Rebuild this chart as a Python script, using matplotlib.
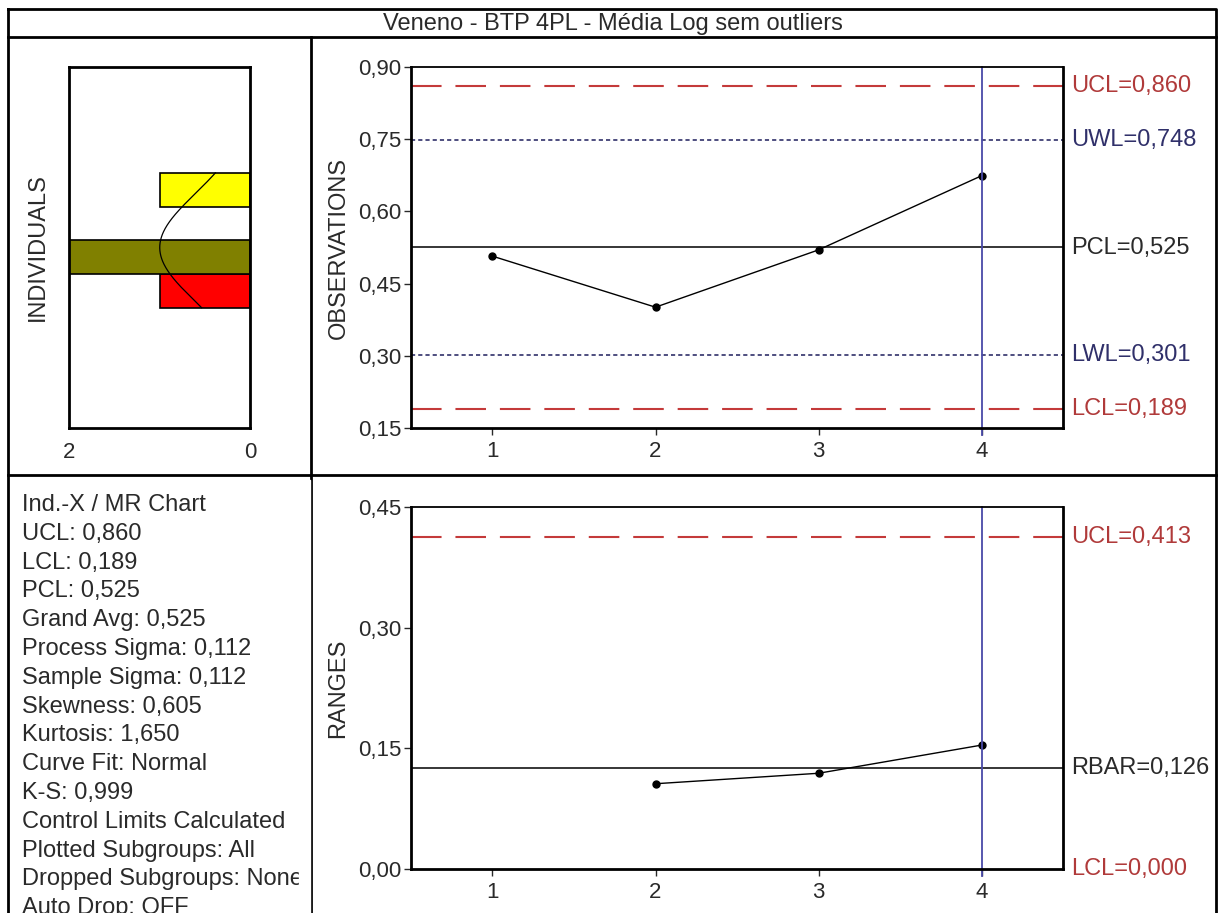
import numpy as np
import matplotlib
matplotlib.use("Agg")
import matplotlib.pyplot as plt
from matplotlib.transforms import blended_transform_factory

plt.rcParams['font.family'] = ['Liberation Sans', 'DejaVu Sans']
plt.rcParams['lines.scale_dashes'] = False

# data
title = "Veneno - BTP 4PL - Média Log sem outliers"
subgroups = [1, 2, 3, 4]
observations = [0.507, 0.401, 0.520, 0.674]
ranges_sg = [2, 3, 4]
ranges = [0.106, 0.119, 0.154]

ucl_x, uwl_x, pcl_x, lwl_x, lcl_x = 0.860, 0.748, 0.525, 0.301, 0.189
ucl_r, rbar, lcl_r = 0.413, 0.126, 0.000
sigma = 0.112

hist_edges = [0.40, 0.47, 0.54, 0.61, 0.68]
hist_counts = [1, 2, 0, 1]
hist_colors = ['#ff0000', '#808000', '#ffffff', '#ffff00']

obs_ticks = [0.15, 0.30, 0.45, 0.60, 0.75, 0.90]
rng_ticks = [0.00, 0.15, 0.30, 0.45]

info_lines = [
    "Ind.-X / MR Chart",
    "UCL: 0,860",
    "LCL: 0,189",
    "PCL: 0,525",
    "Grand Avg: 0,525",
    "Process Sigma: 0,112",
    "Sample Sigma: 0,112",
    "Skewness: 0,605",
    "Kurtosis: 1,650",
    "Curve Fit: Normal",
    "K-S: 0,999",
    "Control Limits Calculated",
    "Plotted Subgroups: All",
    "Dropped Subgroups: None",
    "Auto Drop: OFF",
]

RED = '#c43a3a'
RED_TXT = '#b03a3a'
NAVY = '#30306a'
VBLUE = '#4a4aa8'
TXT = '#2a2a2a'
FS = 17


def comma(v, _=None):
    return ("%.2f" % v).replace('.', ',')


W, H = 1220, 913
fig = plt.figure(figsize=(W / 100, H / 100), dpi=100)

# background frame in pixel coords
bg = fig.add_axes([0, 0, 1, 1])
bg.set_xlim(0, W)
bg.set_ylim(H, 0)
bg.axis('off')
lw_frame = 2.0
bg.plot([8, 1216, 1216, 8, 8], [9, 9, H + 5, H + 5, 9], color='black', lw=lw_frame)
bg.plot([8, 1216], [37, 37], color='black', lw=lw_frame)
bg.plot([311, 311], [37, H + 5], color='black', lw=lw_frame)
bg.plot([8, 1216], [475, 475], color='black', lw=lw_frame)
bg.text(613, 24, title, ha='center', va='center', fontsize=FS, color=TXT)
for i, line in enumerate(info_lines):
    bg.text(22, 505 + i * 28.8, line, ha='left', va='center', fontsize=FS,
            color=TXT, clip_on=True)
# mask text that runs into the divider
bg.fill_between([299, 310], 480, H, color='white', zorder=3)


def px_axes(l, t, r, b):
    return fig.add_axes([l / W, 1 - b / H, (r - l) / W, (b - t) / H])


# histogram
axh = px_axes(69, 67, 250, 428)
centers = [(a + b) / 2 for a, b in zip(hist_edges[:-1], hist_edges[1:])]
bw = hist_edges[1] - hist_edges[0]
for c, n, col in zip(centers, hist_counts, hist_colors):
    if n > 0:
        axh.barh(c, n, height=bw, color=col, edgecolor='black', linewidth=1.2)
yy = np.linspace(hist_edges[0], hist_edges[-1], 200)
pdf = sum(hist_counts) * bw * np.exp(-0.5 * ((yy - pcl_x) / sigma) ** 2) / (sigma * np.sqrt(2 * np.pi))
axh.plot(pdf, yy, color='black', lw=0.9)
axh.set_xlim(2, 0)
axh.set_ylim(0.15, 0.90)
axh.set_xticks([2, 0])
axh.set_xticklabels(['2', '0'])
axh.set_yticks([])
axh.tick_params(axis='x', length=0, pad=10, labelsize=FS - 1, colors=TXT)
for s in axh.spines.values():
    s.set_linewidth(2)
fig.text(38 / W, 1 - 247 / H, "INDIVIDUALS", rotation=90, ha='center', va='center',
         fontsize=FS, color=TXT)


def limit_label(ax, y, txt, color):
    tr = blended_transform_factory(ax.transAxes, ax.transData)
    ax.text(1.013, y, txt, transform=tr, ha='left', va='center', fontsize=FS,
            color=color, clip_on=False)


# observations chart
ax1 = px_axes(411, 67, 1063, 428)
ax1.axhline(ucl_x, color=RED, lw=1.5, dashes=(22, 10))
ax1.axhline(lcl_x, color=RED, lw=1.5, dashes=(22, 10))
ax1.axhline(uwl_x, color=NAVY, lw=1.2, dashes=(3, 2.2))
ax1.axhline(lwl_x, color=NAVY, lw=1.2, dashes=(3, 2.2))
ax1.axhline(pcl_x, color='black', lw=1.1)
ax1.plot(subgroups, observations, color='black', lw=1.0, marker='o', ms=5)
ax1.axvline(subgroups[-1], ymin=-0.02, ymax=1.0, color=VBLUE, lw=1.3, clip_on=False)
ax1.set_xlim(0.5, 4.5)
ax1.set_ylim(0.15, 0.90)
ax1.set_yticks(obs_ticks)
ax1.yaxis.set_major_formatter(plt.FuncFormatter(comma))
ax1.set_xticks(subgroups)
ax1.set_ylabel("OBSERVATIONS", fontsize=FS, color=TXT, labelpad=6)
limit_label(ax1, ucl_x, "UCL=0,860", RED_TXT)
limit_label(ax1, uwl_x, "UWL=0,748", NAVY)
limit_label(ax1, pcl_x, "PCL=0,525", TXT)
limit_label(ax1, lwl_x, "LWL=0,301", NAVY)
limit_label(ax1, lcl_x, "LCL=0,189", RED_TXT)

# ranges chart
ax2 = px_axes(411, 507, 1063, 869)
ax2.axhline(ucl_r, color=RED, lw=1.5, dashes=(22, 10))
ax2.axhline(rbar, color='black', lw=1.1)
ax2.plot(ranges_sg, ranges, color='black', lw=1.0, marker='o', ms=5)
ax2.axvline(subgroups[-1], ymin=-0.02, ymax=1.0, color=VBLUE, lw=1.3, clip_on=False)
ax2.set_xlim(0.5, 4.5)
ax2.set_ylim(0.0, 0.45)
ax2.set_yticks(rng_ticks)
ax2.yaxis.set_major_formatter(plt.FuncFormatter(comma))
ax2.set_xticks(subgroups)
ax2.set_ylabel("RANGES", fontsize=FS, color=TXT, labelpad=6)
limit_label(ax2, ucl_r, "UCL=0,413", RED_TXT)
limit_label(ax2, rbar, "RBAR=0,126", TXT)
limit_label(ax2, lcl_r, "LCL=0,000", RED_TXT)

for ax in (ax1, ax2):
    for s in ax.spines.values():
        s.set_linewidth(2)
    ax.spines['top'].set_linewidth(1.3)
    ax.tick_params(axis='both', direction='out', length=5, width=1,
                   labelsize=FS - 1, colors=TXT, pad=2)
    ax.tick_params(axis='x', pad=4)

fig.savefig("out.png", dpi=100)
